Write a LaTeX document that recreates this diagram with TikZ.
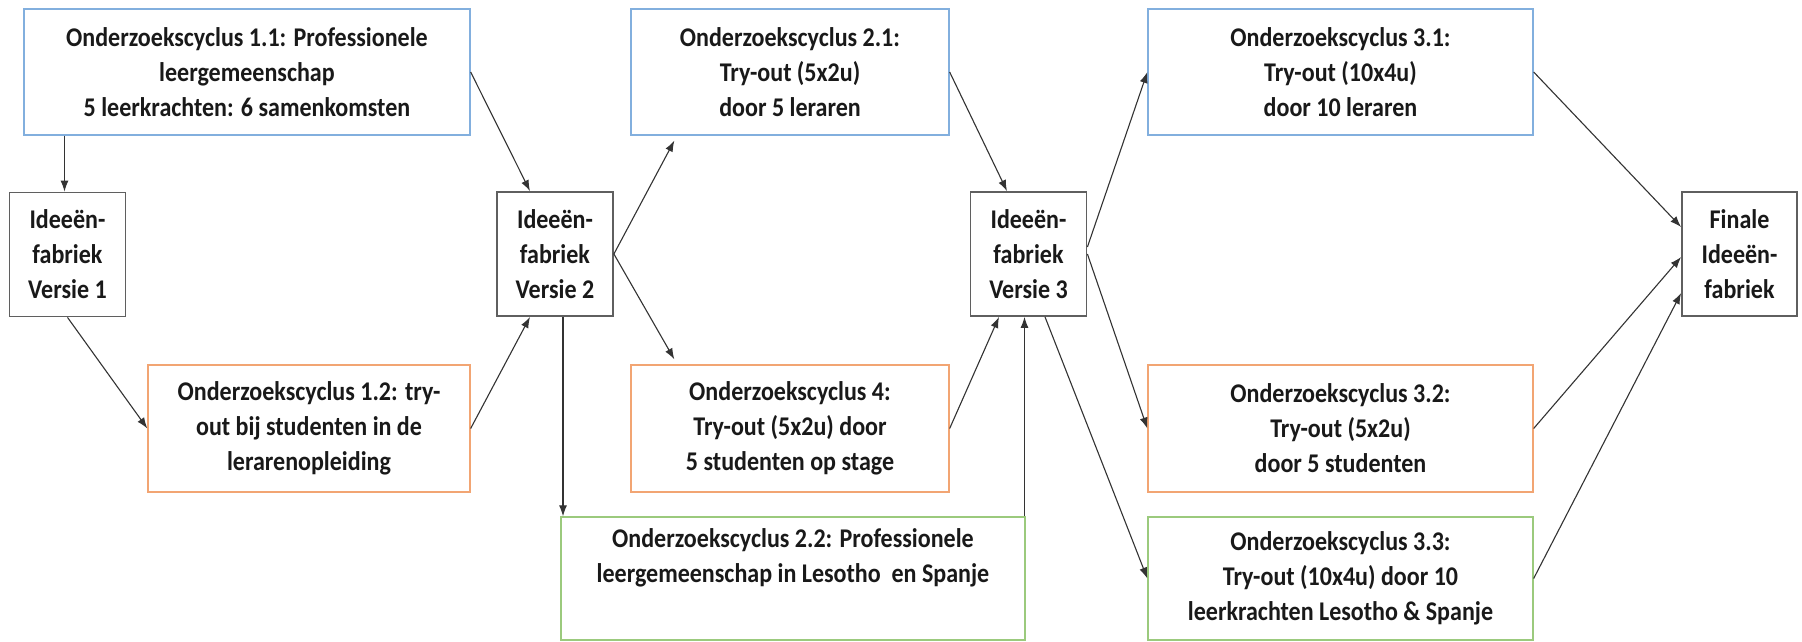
\documentclass[tikz,border=0pt]{standalone}
\usepackage{fontspec}
\setmainfont{Carlito}[FakeStretch=0.89]
\usetikzlibrary{arrows.meta}
\definecolor{bblue}{RGB}{130,175,222}
\definecolor{borange}{RGB}{242,165,115}
\definecolor{bgreen}{RGB}{155,202,125}
\definecolor{bgray}{RGB}{95,95,95}
\begin{document}
\begin{tikzpicture}[x=1pt,y=-1pt,
  box/.style={draw, line width=1.3pt, inner sep=0pt, align=center,
    font=\fontsize{27}{35}\selectfont\bfseries, text=black!90},
  bluebox/.style={box, draw=bblue, minimum height=126pt},
  orangebox/.style={box, draw=borange, minimum height=127pt},
  greenbox/.style={box, draw=bgreen, minimum height=123pt},
  graybox/.style={box, draw=bgray, line width=1.8pt, minimum width=116pt, minimum height=124pt},
  conn/.style={-{Latex[length=11pt,width=8pt]}, line width=1.1pt, draw=black!80}]
\useasboundingbox (0,0) rectangle (1802,642);
\fill[white] (0,0) rectangle (1802,642);

% boxes
\node[bluebox, minimum width=446pt] (c11) at (247,72)
  {Onderzoekscyclus 1.1: Professionele\\leergemeenschap\\5 leerkrachten: 6 samenkomsten};
\node[graybox] (v1) at (67.5,254.5) {Ideeën-\\fabriek\\Versie 1};
\node[orangebox, minimum width=322pt] (c12) at (309,428.5)
  {Onderzoekscyclus 1.2: try-\\out bij studenten in de\\lerarenopleiding};
\node[graybox] (v2) at (555,254) {Ideeën-\\fabriek\\Versie 2};
\node[bluebox, minimum width=318pt] (c21) at (790,72)
  {Onderzoekscyclus 2.1:\\Try-out (5x2u)\\door 5 leraren};
\node[orangebox, minimum width=318pt] (c4) at (790,428.5)
  {Onderzoekscyclus 4:\\Try-out (5x2u) door\\5 studenten op stage};
\node[greenbox, minimum width=464pt] (c22) at (793,578.5)
  {Onderzoekscyclus 2.2: Professionele\\leergemeenschap in Lesotho\ \ en Spanje\\\strut};
\node[graybox] (v3) at (1028.5,254) {Ideeën-\\fabriek\\Versie 3};
\node[bluebox, minimum width=385pt] (c31) at (1340.5,72)
  {Onderzoekscyclus 3.1:\\Try-out (10x4u)\\door 10 leraren};
\node[orangebox, minimum width=385pt] (c32) at (1340.5,428.5)
  {Onderzoekscyclus 3.2:\\Try-out (5x2u)\\door 5 studenten};
\node[greenbox, minimum width=385pt] (c33) at (1340.5,578.5)
  {Onderzoekscyclus 3.3:\\Try-out (10x4u) door 10\\leerkrachten Lesotho \& Spanje};
\node[graybox, minimum width=115pt] (fin) at (1739.5,254) {Finale\\Ideeën-\\fabriek};

% helper coordinates
\coordinate (v1in) at ([xshift=-3pt]v1.north);
\coordinate (v2out) at ([xshift=8pt]v2.south);
\coordinate (v3in) at ([xshift=-4pt]v3.south);

% connectors
\draw[conn] (c11.south -| v1in) -- (v1in);
\draw[conn] (c11.east) -- ([xshift=-25pt]v2.north);
\draw[conn] (v1.south) -- (c12.west);
\draw[conn] (c12.east) -- ([xshift=-25pt]v2.south);
\draw[conn] (v2out) -- (v2out |- c22.north);
\draw[conn] (v2.east) -- ([xshift=44pt,yshift=-5pt]c21.south west);
\draw[conn] (v2.east) -- ([xshift=44pt,yshift=5pt]c4.north west);
\draw[conn] (c21.east) -- ([xshift=-21.5pt]v3.north);
\draw[conn] (c4.east) -- ([xshift=-29.5pt]v3.south);
\draw[conn] (v3in |- c22.north) -- (v3in);
\draw[conn] ([yshift=7pt]v3.east) -- (c31.west);
\draw[conn] (v3.east) -- (c32.west);
\draw[conn] ([xshift=16.5pt]v3.south) -- (c33.west);
\draw[conn] (c31.east) -- ([yshift=27pt]fin.west);
\draw[conn] (c32.east) -- ([yshift=-3pt]fin.west);
\draw[conn] (c33.east) -- ([yshift=-39pt]fin.west);
\end{tikzpicture}
\end{document}
